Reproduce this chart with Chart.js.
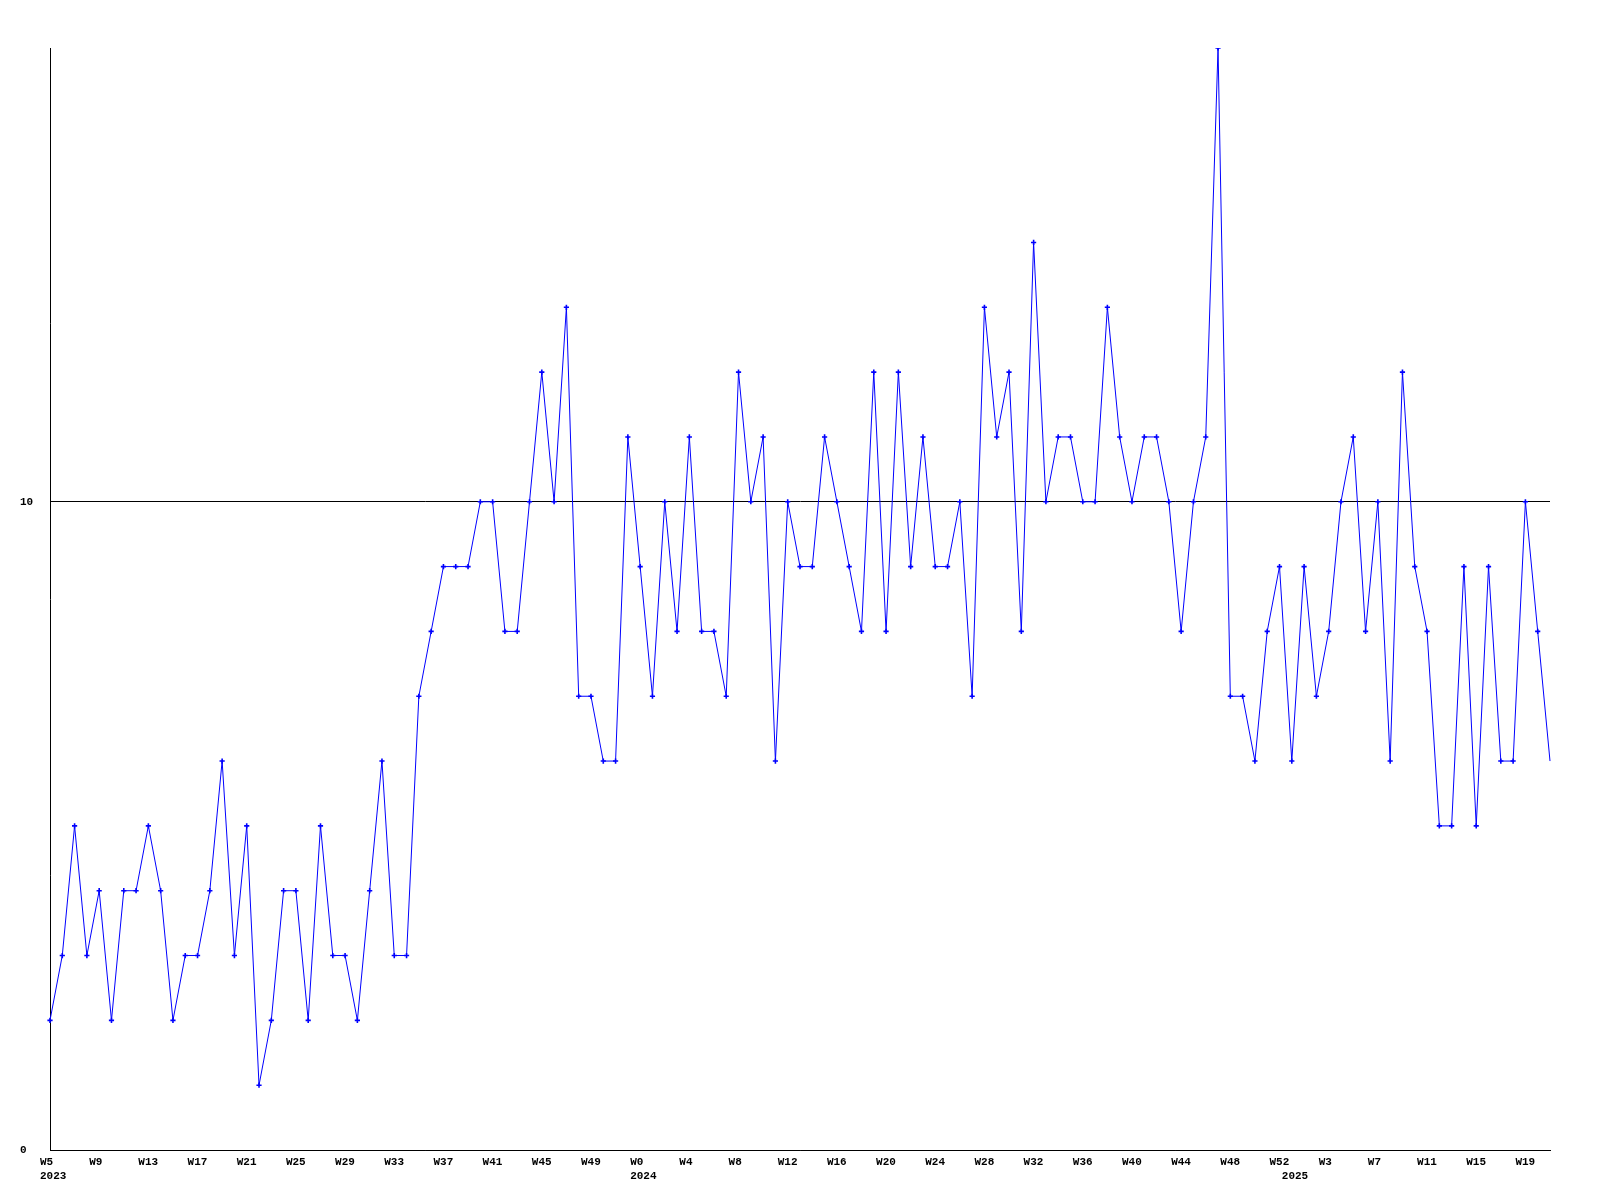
<!DOCTYPE html>
<html>
<head>
<meta charset="utf-8">
<script src="https://cdn.jsdelivr.net/npm/chart.js@4"></script>
<style>
  html, body { margin: 0; padding: 0; background: #ffffff; }
  #wrap { width: 1600px; height: 1200px; }
</style>
</head>
<body>
<div id="wrap"><canvas id="c" width="1600" height="1200"></canvas></div>
<script>
// Weekly categories (2023 W5 .. 2025 W21)
const categories = [
  "W5","W6","W7","W8","W9","W10","W11","W12","W13","W14","W15","W16","W17","W18","W19","W20",
  "W21","W22","W23","W24","W25","W26","W27","W28","W29","W30","W31","W32","W33","W34","W35","W36",
  "W37","W38","W39","W40","W41","W42","W43","W44","W45","W46","W47","W48","W49","W50","W51","W52",
  "W0","W1","W2","W3","W4","W5","W6","W7","W8","W9","W10","W11","W12","W13","W14","W15","W16",
  "W17","W18","W19","W20","W21","W22","W23","W24","W25","W26","W27","W28","W29","W30","W31","W32",
  "W33","W34","W35","W36","W37","W38","W39","W40","W41","W42","W43","W44","W45","W46","W47","W48",
  "W49","W50","W51","W52",
  "W0","W1","W2","W3","W4","W5","W6","W7","W8","W9","W10","W11","W12","W13","W14","W15","W16",
  "W17","W18","W19","W20","W21"
];
// Year label shown under the first week of each year
const yearStartIndex = [0, 48, 101];
const yearNames = ["2023", "2024", "2025"];

// Series values
const values = [
  2,3,5,3,4,2,4,4,5,4,
  2,3,3,4,6,3,5,1,2,4,
  4,2,5,3,3,2,4,6,3,3,
  7,8,9,9,9,10,10,8,8,10,
  12,10,13,7,7,6,6,11,9,7,
  10,8,11,8,8,7,12,10,11,6,
  10,9,9,11,10,9,8,12,8,12,
  9,11,9,9,10,7,13,11,12,8,
  14,10,11,11,10,10,13,11,10,11,
  11,10,8,10,11,17,7,7,6,8,
  9,6,9,7,8,10,11,8,10,6,
  12,9,8,5,5,9,5,9,6,6,
  10,8,6
];

// Y axis range / tick step
const yMin = 0, yMax = 17, yStep = 10;
const weekLabelEvery = 4;

const tickFont = { family: "'Liberation Mono', 'DejaVu Sans Mono', monospace", size: 11, weight: 'bold', lineHeight: 1.3 };

new Chart(document.getElementById('c'), {
  type: 'line',
  data: {
    labels: categories,
    datasets: [{
      data: values,
      borderColor: '#0000ff',
      backgroundColor: '#0000ff',
      borderWidth: 1,
      tension: 0,
      fill: false,
      pointStyle: 'cross',
      pointRadius: (ctx) => ctx.dataIndex === values.length - 1 ? 0 : 2.6,
      pointBorderWidth: 1.6,
      pointBorderColor: '#0000ff',
      pointHoverRadius: 0
    }]
  },
  options: {
    responsive: false,
    animation: false,
    events: [],
    layout: { padding: { left: 20, right: 50, top: 48, bottom: 0 } },
    plugins: { legend: { display: false }, tooltip: { enabled: false }, title: { display: false } },
    scales: {
      x: {
        type: 'category',
        offset: false,
        grid: { display: false, drawTicks: false },
        border: { display: true, color: '#000000', width: 1 },
        afterFit: (s) => { s.height = 50; },
        ticks: {
          autoSkip: false,
          maxRotation: 0,
          minRotation: 0,
          align: 'start',
          labelOffset: -10,
          padding: 5,
          color: '#000000',
          font: tickFont,
          callback: function (value, index) {
            const wk = index % weekLabelEvery === 0 ? categories[index] : '';
            const yi = yearStartIndex.indexOf(index);
            if (yi >= 0) return [wk, yearNames[yi]];
            return wk;
          }
        }
      },
      y: {
        min: yMin,
        max: yMax,
        z: 1,
        grid: { color: '#000000', lineWidth: 1, drawTicks: false },
        border: { display: true, color: '#000000', width: 1 },
        afterFit: (s) => { s.width = 30; },
        ticks: {
          stepSize: yStep,
          includeBounds: false,
          crossAlign: 'far',
          padding: 0,
          color: '#000000',
          font: tickFont
        }
      }
    }
  }
});
</script>
</body>
</html>
